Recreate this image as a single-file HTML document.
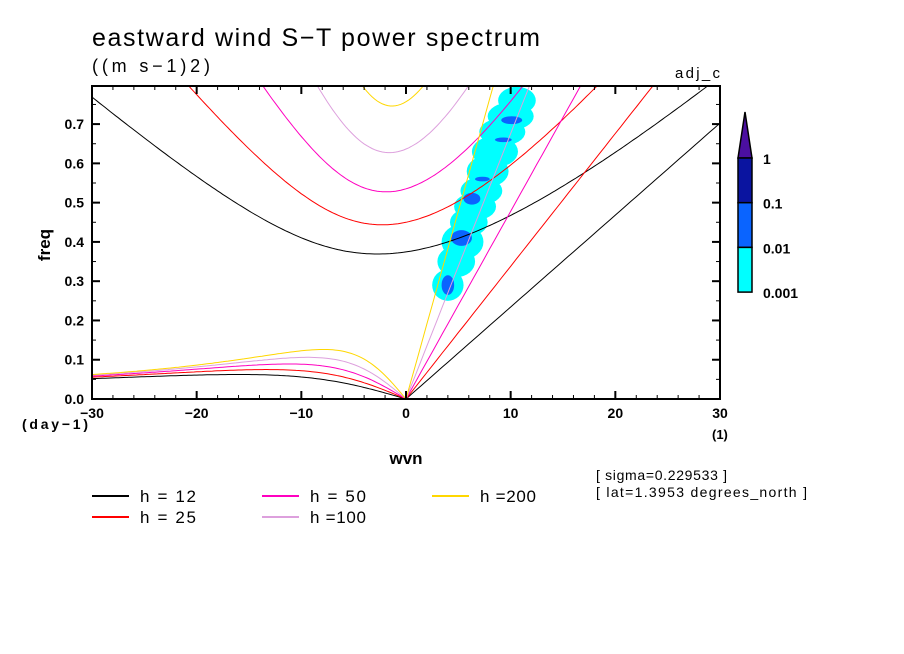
<!DOCTYPE html>
<html><head><meta charset="utf-8"><style>
body{margin:0;background:#fff;}
svg{display:block;font-family:"Liberation Sans",sans-serif;}
</style></head><body>
<svg id="chart" width="904" height="654" viewBox="0 0 904 654" xmlns="http://www.w3.org/2000/svg">
<rect width="904" height="654" fill="#fff"/>
<text x="92" y="46" font-size="25" textLength="448" lengthAdjust="spacing">eastward wind S−T power spectrum</text>
<text x="92" y="72" font-size="18" textLength="118" lengthAdjust="spacing">((m s−1)2)</text>
<text x="675" y="78" font-size="15" textLength="45" lengthAdjust="spacing">adj_c</text>
<g id="blobs"></g>
<g id="curves"></g>
<g id="axes"></g>
<text transform="translate(50,245) rotate(-90)" font-size="17" font-weight="bold" text-anchor="middle">freq</text>
<text x="22" y="429" font-size="14" font-weight="bold" textLength="66" lengthAdjust="spacing">(day−1)</text>
<text x="406" y="464" font-size="17" font-weight="bold" text-anchor="middle">wvn</text>
<text x="712" y="439" font-size="13" font-weight="bold">(1)</text>
<text x="596" y="480" font-size="14" textLength="131" lengthAdjust="spacing">[ sigma=0.229533 ]</text>
<text x="596" y="497" font-size="14" textLength="211" lengthAdjust="spacing">[ lat=1.3953 degrees_north ]</text>
<g id="legend"></g>
<g id="cbar"></g>
</svg>
<script>
const depths=[12,25,50,100,200];
const depthColors=["#000000","#ff0000","#ff00c0","#dda0dd","#ffd700"];
const legendLabels=["h = 12","h = 25","h = 50","h =100","h =200"];
const xTicks=[-30,-20,-10,0,10,20,30];
const yTicks=[0,0.1,0.2,0.3,0.4,0.5,0.6,0.7];
const cbarLabels=["1","0.1","0.01","0.001"];
const cbarColors=["#4b0fa0","#0a14a0","#0a64ff","#00ffff"];
// blobs: wvn, freq, half-width (wvn), half-height (freq), level (3=cyan,2=blue)
const blobWvn=[4.0,4.8,5.4,6.0,6.6,7.2,7.8,8.5,9.2,10.0,10.6,4.0,5.3,6.3,7.3,9.3,10.1];
const blobFreq=[0.29,0.35,0.40,0.45,0.49,0.53,0.58,0.63,0.68,0.72,0.76,0.29,0.41,0.51,0.56,0.66,0.71];
const blobRx=[1.5,1.8,2.0,1.8,2.0,2.0,2.0,2.2,2.2,2.2,1.8,0.6,1.0,0.8,0.7,0.8,1.0];
const blobRy=[0.04,0.04,0.045,0.035,0.035,0.035,0.04,0.04,0.035,0.035,0.035,0.025,0.02,0.015,0.006,0.006,0.01];
const blobLevel=[3,3,3,3,3,3,3,3,3,3,3,2,2,2,2,2,2];

const X0=92,X1=720,Y0=399,Y1=86,XMIN=-30,XMAX=30,YMIN=0,YMAX=0.797;
const sx=v=>X0+(v-XMIN)/(XMAX-XMIN)*(X1-X0);
const sy=v=>Y0-(v-YMIN)/(YMAX-YMIN)*(Y0-Y1);
const NS="http://www.w3.org/2000/svg";
function mk(tag,attrs,parent){const e=document.createElementNS(NS,tag);for(const k in attrs)e.setAttribute(k,attrs[k]);parent.appendChild(e);return e;}

const bg=document.getElementById('blobs');
const clip=mk('clipPath',{id:'pc'},document.getElementById('chart'));
mk('rect',{x:X0,y:Y1,width:X1-X0,height:Y0-Y1},clip);
bg.setAttribute('clip-path','url(#pc)');
blobWvn.forEach((w,i)=>{
  const e=mk('ellipse',{cx:sx(w),cy:sy(blobFreq[i]),rx:blobRx[i]*(X1-X0)/60,ry:blobRy[i]*(Y0-Y1)/(YMAX-YMIN),fill:blobLevel[i]===3?"#00ffff":"#0a64ff"},bg);
  
  
});

const g=9.81,beta=2.28e-11,Re=6.371e6,cpd=86400/(2*Math.PI);
const cg=document.getElementById('curves');
cg.setAttribute('clip-path','url(#pc)');
depths.forEach((h,i)=>{
  const c=Math.sqrt(g*h),col=depthColors[i];
  let kel=[],ig=[],ros=[];
  for(let w=0;w<=30;w+=0.5){kel.push([w,c*(w/Re)*cpd]);}
  for(let w=-30;w<=30;w+=0.25){
    const k=w/Re;let om=Math.sqrt(c*c*k*k+3*beta*c)*1.2;
    for(let it=0;it<40;it++){const f=om*om*om-(c*c*k*k+3*beta*c)*om-beta*k*c*c;const d=3*om*om-(c*c*k*k+3*beta*c);om-=f/d;}
    ig.push([w,om*cpd]);
  }
  for(let w=-30;w<=0;w+=0.25){const k=w/Re;ros.push([w,-beta*k/(k*k+3*beta/c)*cpd]);}
  [["kelvin",kel],["ig",ig],["rossby",ros]].forEach(([n,pts])=>{
    const p=mk('polyline',{points:pts.map(q=>sx(q[0]).toFixed(1)+","+sy(q[1]).toFixed(1)).join(" "),fill:"none",stroke:col,"stroke-width":1},cg);
    
    
  });
});

const ax=document.getElementById('axes');
mk('rect',{x:X0,y:Y1,width:X1-X0,height:Y0-Y1,fill:"none",stroke:"#000","stroke-width":2},ax);
for(let w=-30;w<=30;w+=2){const maj=w%10===0,L=maj?8:4;
  mk('line',{x1:sx(w),x2:sx(w),y1:Y0,y2:Y0-L,stroke:"#000","stroke-width":maj?2:1},ax);
  mk('line',{x1:sx(w),x2:sx(w),y1:Y1,y2:Y1+L,stroke:"#000","stroke-width":maj?2:1},ax);}
for(let k=0;k<=15;k++){const v=k*0.05,maj=k%2===0,L=maj?8:4;
  mk('line',{x1:X0,x2:X0+L,y1:sy(v),y2:sy(v),stroke:"#000","stroke-width":maj?2:1},ax);
  mk('line',{x1:X1,x2:X1-L,y1:sy(v),y2:sy(v),stroke:"#000","stroke-width":maj?2:1},ax);}
xTicks.forEach(v=>{const t=mk('text',{x:sx(v),y:418,"font-size":14,"font-weight":"bold","text-anchor":"middle"},ax);t.textContent=(v<0?"−":"")+Math.abs(v);
  
  });
yTicks.forEach(v=>{const t=mk('text',{x:84,y:sy(v)+5,"font-size":14,"font-weight":"bold","text-anchor":"end"},ax);t.textContent=v.toFixed(1);
  
  });

const lg=document.getElementById('legend');
legendLabels.forEach((lab,i)=>{const col=Math.floor(i/2),row=i%2;const lx=92+col*170,ly=496+row*21;
  const l=mk('line',{x1:lx,x2:lx+37,y1:ly,y2:ly,stroke:depthColors[i],"stroke-width":2},lg);
  
  
  const t=mk('text',{x:lx+48,y:ly+6,"font-size":17,textLength:56,lengthAdjust:"spacing"},lg);t.textContent=lab;
  
  });

const cb=document.getElementById('cbar');
const cbX=738,cbW=14,cbTop=158,cbSeg=44.7;
mk('polygon',{points:`${cbX},${cbTop} ${cbX+cbW},${cbTop} ${cbX+cbW/2},112`,fill:cbarColors[0],stroke:"#000","stroke-width":1.5},cb);
for(let i=1;i<4;i++){mk('rect',{x:cbX,y:cbTop+(i-1)*cbSeg,width:cbW,height:cbSeg,fill:cbarColors[i],stroke:"#000","stroke-width":1.5},cb);}
cbarLabels.forEach((lab,i)=>{const t=mk('text',{x:763,y:cbTop+i*cbSeg+6,"font-size":14,"font-weight":"bold"},cb);t.textContent=lab;
  
  });
</script>
</body></html>
